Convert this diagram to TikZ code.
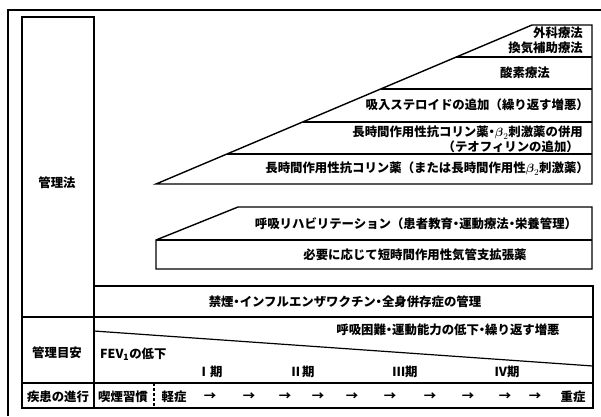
\documentclass[tikz,border=0pt]{standalone}
\usepackage{fontspec}
\usepackage{amsmath}
\setmainfont{Noto Sans CJK JP}
\newcommand{\dt}{\makebox[0.5em][c]{・}}
\newcommand{\btwo}{$\boldsymbol{\beta}_{2}$}
\begin{document}
\begin{tikzpicture}[x=1pt,y=-1pt,
  tx/.style={font=\fontsize{12.4}{14}\selectfont\bfseries, inner sep=0pt},
  ln/.style={line width=1.2pt},
  st/.style={line width=1.4pt},
  frame/.style={line width=2.4pt}]
\useasboundingbox (0,0) rectangle (601,416);
\fill[white] (0,0) rectangle (601,416);
% outer frame
\draw[frame] (8,416) -- (8,10) -- (601,10);
% table
\draw[ln] (22,17) rectangle (94,317);
\draw[ln] (94,286) -- (593,286) -- (593,408) -- (22,408) -- (22,317);
\draw[ln] (22,317) -- (593,317);
\draw[ln] (22,383) -- (593,383);
\draw[ln] (94,317) -- (94,408);
\draw[ln,densely dashed] (154,383) -- (154,408);
\draw[ln] (94,331) -- (593,366);
% staircase 1
\coordinate (s1a) at (156,184);
\coordinate (s1b) at (532,25);
\draw[st] (s1a) -- (s1b) -- (592,25) -- (592,184) -- cycle;
\draw[st] (456.3,57) -- (592,57);
\draw[st] (380.7,89) -- (592,89);
\draw[st] (302.6,122) -- (592,122);
\draw[st] (227,154) -- (592,154);
% staircase 2
\draw[st] (156,240) -- (238,207) -- (592,207) -- (592,269) -- (156,269) -- cycle;
\draw[st] (156,240) -- (592,240);
% texts staircase 1
\node[tx,anchor=east] (t1) at (583,33) {外科療法};
\node[tx,anchor=east] (t2) at (583,48) {換気補助療法};
\node[tx] (t3) at (525,73) {酸素療法};
\node[tx,anchor=east] (t4) at (589,105) {吸入ステロイドの追加（繰り返す増悪）};
\node[tx,anchor=east] (t5) at (583,133) {長時間作用性抗コリン薬\dt\btwo 刺激薬の併用};
\node[tx,anchor=east] (t6) at (579,147) {（テオフィリンの追加）};
\node[tx,anchor=east] (t7) at (589,169) {長時間作用性抗コリン薬（または長時間作用性\btwo 刺激薬）};
% staircase 2
\node[tx] (r1) at (416,224) {呼吸リハビリテーション（患者教育\dt 運動療法\dt 栄養管理）};
\node[tx] (r2) at (415,255) {必要に応じて短時間作用性気管支拡張薬};
\node[tx] (r3) at (345,302) {禁煙\dt インフルエンザワクチン\dt 全身併存症の管理};
% left column
\node[tx] (k1) at (57,183) {管理法};
\node[tx] (k2) at (57,353) {管理目安};
\node[tx] (k3) at (58,397) {疾患の進行};
% management targets
\node[tx] (m1) at (448,330) {呼吸困難\dt 運動能力の低下\dt 繰り返す増悪};
\node[tx,anchor=west] (m2) at (100,354) {FEV\textsubscript{1}の低下};
\node[tx] (p1) at (210,372) {Ⅰ期};
\node[tx] (p2) at (302,372) {Ⅱ期};
\node[tx] (p3) at (405,372) {Ⅲ期};
\node[tx] (p4) at (507,372) {Ⅳ期};
% progression row
\node[tx] (q1) at (123,397) {喫煙習慣};
\node[tx] (q2) at (174,397) {軽症};
\node[tx] (q3) at (573,397) {重症};
\foreach \x [count=\i] in {210,249,285,318,352,390,430,468,505,535}
  \node[tx] (a\i) at (\x,397) {→};
\end{tikzpicture}
\end{document}
